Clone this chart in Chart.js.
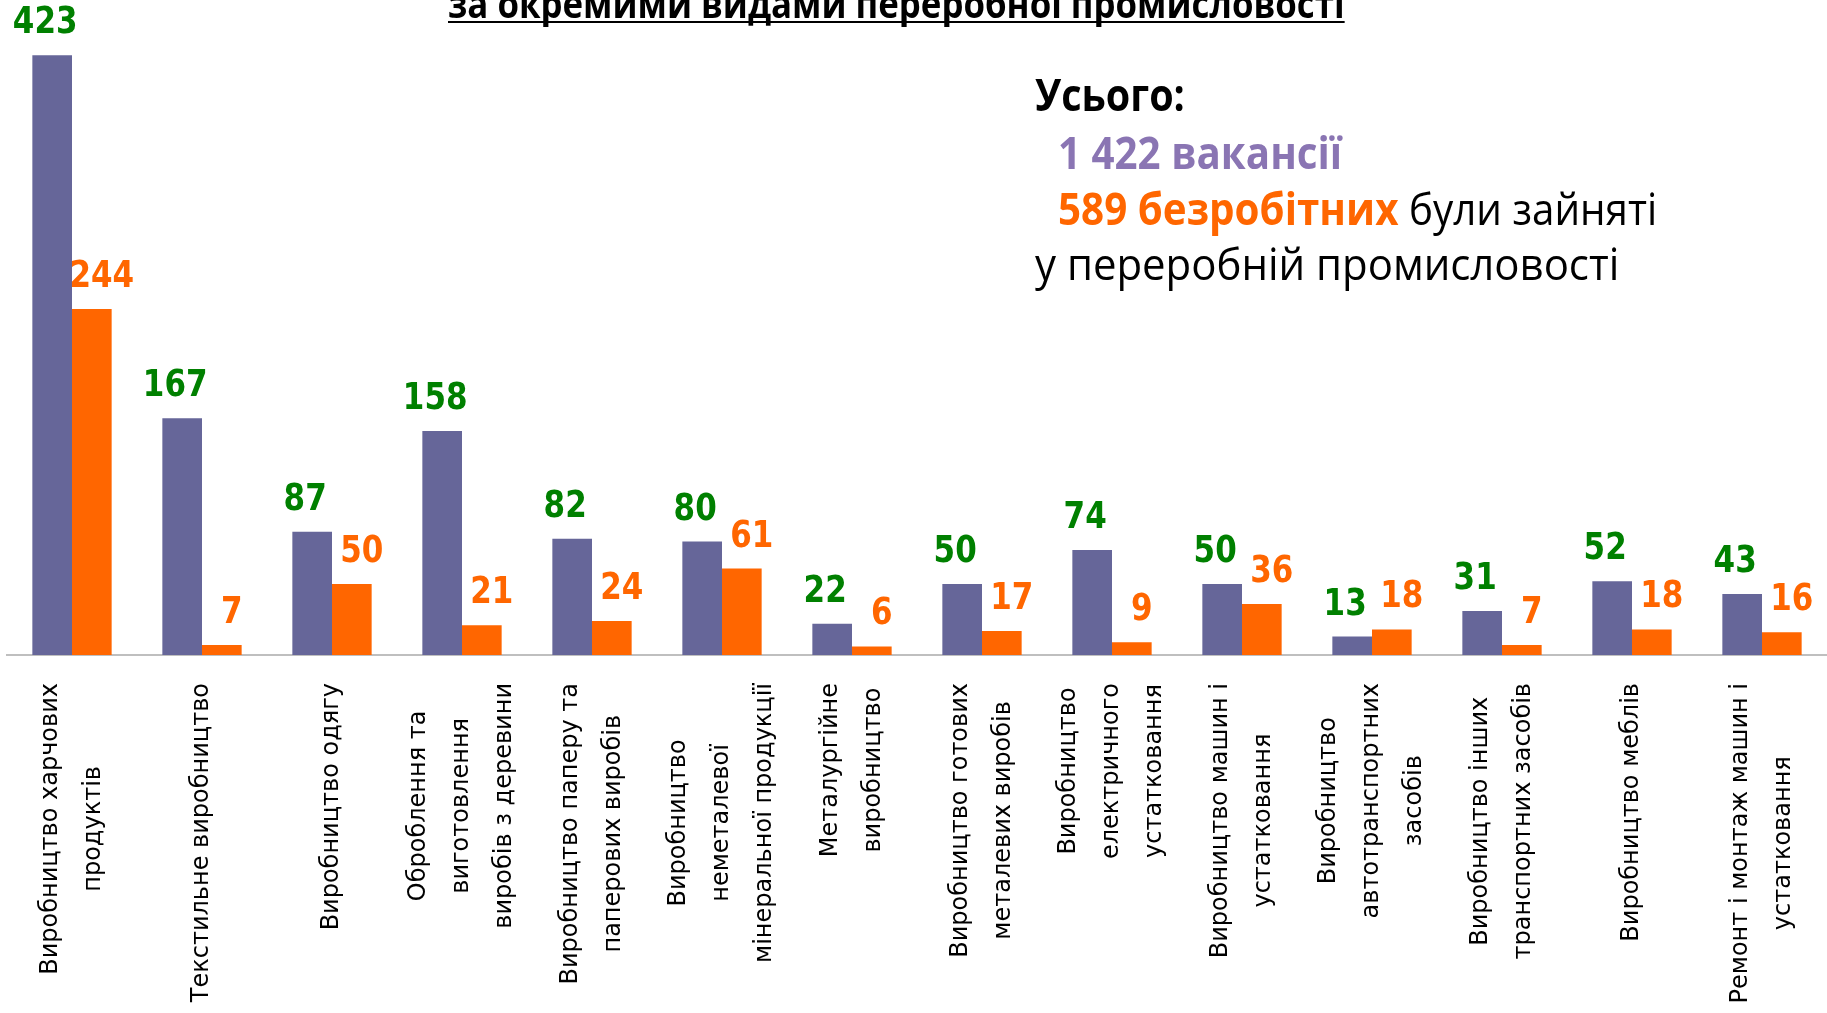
<!DOCTYPE html>
<html lang="uk">
<head>
  <meta charset="UTF-8">
  <title>Вакансії та безробітні у переробній промисловості</title>
  <script src="https://cdn.jsdelivr.net/npm/chart.js@4"></script>
  <style>
    html, body { margin: 0; padding: 0; background: #fff; overflow: hidden; }
    .wrap { position: relative; width: 1827px; height: 1013px; }
    #chart { position: absolute; left: 0; top: 0; }
    .title {
      position: absolute; left: 448px; top: -17px;
      font: bold 40px "Open Sans", sans-serif; line-height: 40px;
      white-space: nowrap; transform-origin: left top;
      text-decoration: underline; text-decoration-thickness: 2px;
      text-underline-offset: 3px; text-decoration-skip-ink: none;
    }
    .line {
      position: absolute; white-space: nowrap; transform-origin: left top;
      font-family: "Open Sans", sans-serif; font-size: 44px; line-height: 44px; color: #000;
    }
    .b { font-weight: bold; }
    .purple { color: #8a75b3; }
    .orange { color: #ff6600; }
  </style>
</head>
<body>
<div class="wrap">
  <canvas id="chart" width="1827" height="1013"></canvas>
  <div class="title" id="title">за окремими видами переробної промисловості</div>
  <div class="line b" id="l1" style="left:1035px; top:72px;">Усього:</div>
  <div class="line b purple" id="l2" style="left:1058px; top:130px;">1 422 вакансії</div>
  <div class="line" id="l3" style="left:1058px; top:186px;"><span class="b orange">589 безробітних</span> були зайняті</div>
  <div class="line" id="l4" style="left:1035px; top:241px;">у переробній промисловості</div>
</div>

<script>
  // Data
  const categories = [
    ['Виробництво харчових', 'продуктів'],
    ['Текстильне виробництво'],
    ['Виробництво одягу'],
    ['Оброблення та', 'виготовлення', 'виробів з деревини'],
    ['Виробництво паперу та', 'паперових виробів'],
    ['Виробництво', 'неметалевої', 'мінеральної продукції'],
    ['Металургійне', 'виробництво'],
    ['Виробництво готових', 'металевих виробів'],
    ['Виробництво', 'електричного', 'устатковання'],
    ['Виробництво машин і', 'устатковання'],
    ['Виробництво', 'автотранспортних', 'засобів'],
    ['Виробництво інших', 'транспортних засобів'],
    ['Виробництво меблів'],
    ['Ремонт і монтаж машин і', 'устатковання']
  ];
  const vacancies = [423, 167, 87, 158, 82, 80, 22, 50, 74, 50, 13, 31, 52, 43];
  const unemployed = [244, 7, 50, 21, 24, 61, 6, 17, 9, 36, 18, 7, 18, 16];
  const seriesNames = ['вакансії', 'безробітні'];

  const barColors = ['#666699', '#ff6600'];
  const valueColors = ['#008000', '#ff6600'];
  const valueShift = [-7, 10];

  // squeeze text lines to the widths they have in the slide
  function fitWidth(id, w) {
    const el = document.getElementById(id);
    el.style.transform = 'scaleX(' + (w / el.offsetWidth) + ')';
  }
  fitWidth('title', 897);
  fitWidth('l1', 150);
  fitWidth('l2', 284);
  fitWidth('l3', 599);
  fitWidth('l4', 584);

  // value labels above bars + rotated category labels under the axis
  const labelPlugin = {
    id: 'labelPlugin',
    afterDatasetsDraw(chart) {
      const ctx = chart.ctx;
      const xScale = chart.scales.x;
      ctx.save();
      ctx.textAlign = 'center';
      ctx.textBaseline = 'alphabetic';
      ctx.font = 'bold 31px "DejaVu Sans"';
      chart.data.datasets.forEach((ds, di) => {
        chart.getDatasetMeta(di).data.forEach((bar, i) => {
          ctx.save();
          ctx.fillStyle = valueColors[di];
          ctx.translate(bar.x + valueShift[di], bar.y - 22);
          ctx.scale(1, 1.2);
          ctx.fillText(String(ds.data[i]), 0, 0);
          ctx.restore();
        });
      });

      ctx.font = '24px "DejaVu Sans"';
      ctx.fillStyle = '#000';
      ctx.textBaseline = 'middle';
      const top = chart.chartArea.bottom + 28;
      categories.forEach((lines, i) => {
        const cx = xScale.getPixelForValue(i);
        const maxW = Math.max(...lines.map(l => ctx.measureText(l).width));
        ctx.save();
        ctx.translate(cx, top + maxW / 2);
        ctx.rotate(-Math.PI / 2);
        lines.forEach((l, k) => {
          ctx.fillText(l, 0, (k - (lines.length - 1) / 2) * 43);
        });
        ctx.restore();
      });
      ctx.restore();
    }
  };

  new Chart(document.getElementById('chart'), {
    type: 'bar',
    data: {
      labels: categories,
      datasets: [
        { label: seriesNames[0], data: vacancies, backgroundColor: barColors[0], categoryPercentage: 0.61, barPercentage: 1.0 },
        { label: seriesNames[1], data: unemployed, backgroundColor: barColors[1], categoryPercentage: 0.61, barPercentage: 1.0 }
      ]
    },
    options: {
      responsive: false,
      animation: false,
      layout: { padding: { left: 7, right: 0, top: 17, bottom: 358 } },
      plugins: { legend: { display: false }, tooltip: { enabled: false } },
      scales: {
        x: {
          grid: { display: false, drawTicks: false },
          border: { display: true, color: '#bfbfbf', width: 2 },
          ticks: { display: false }
        },
        y: { display: false, min: 0, max: 450 }
      }
    },
    plugins: [labelPlugin]
  });
</script>
</body>
</html>
